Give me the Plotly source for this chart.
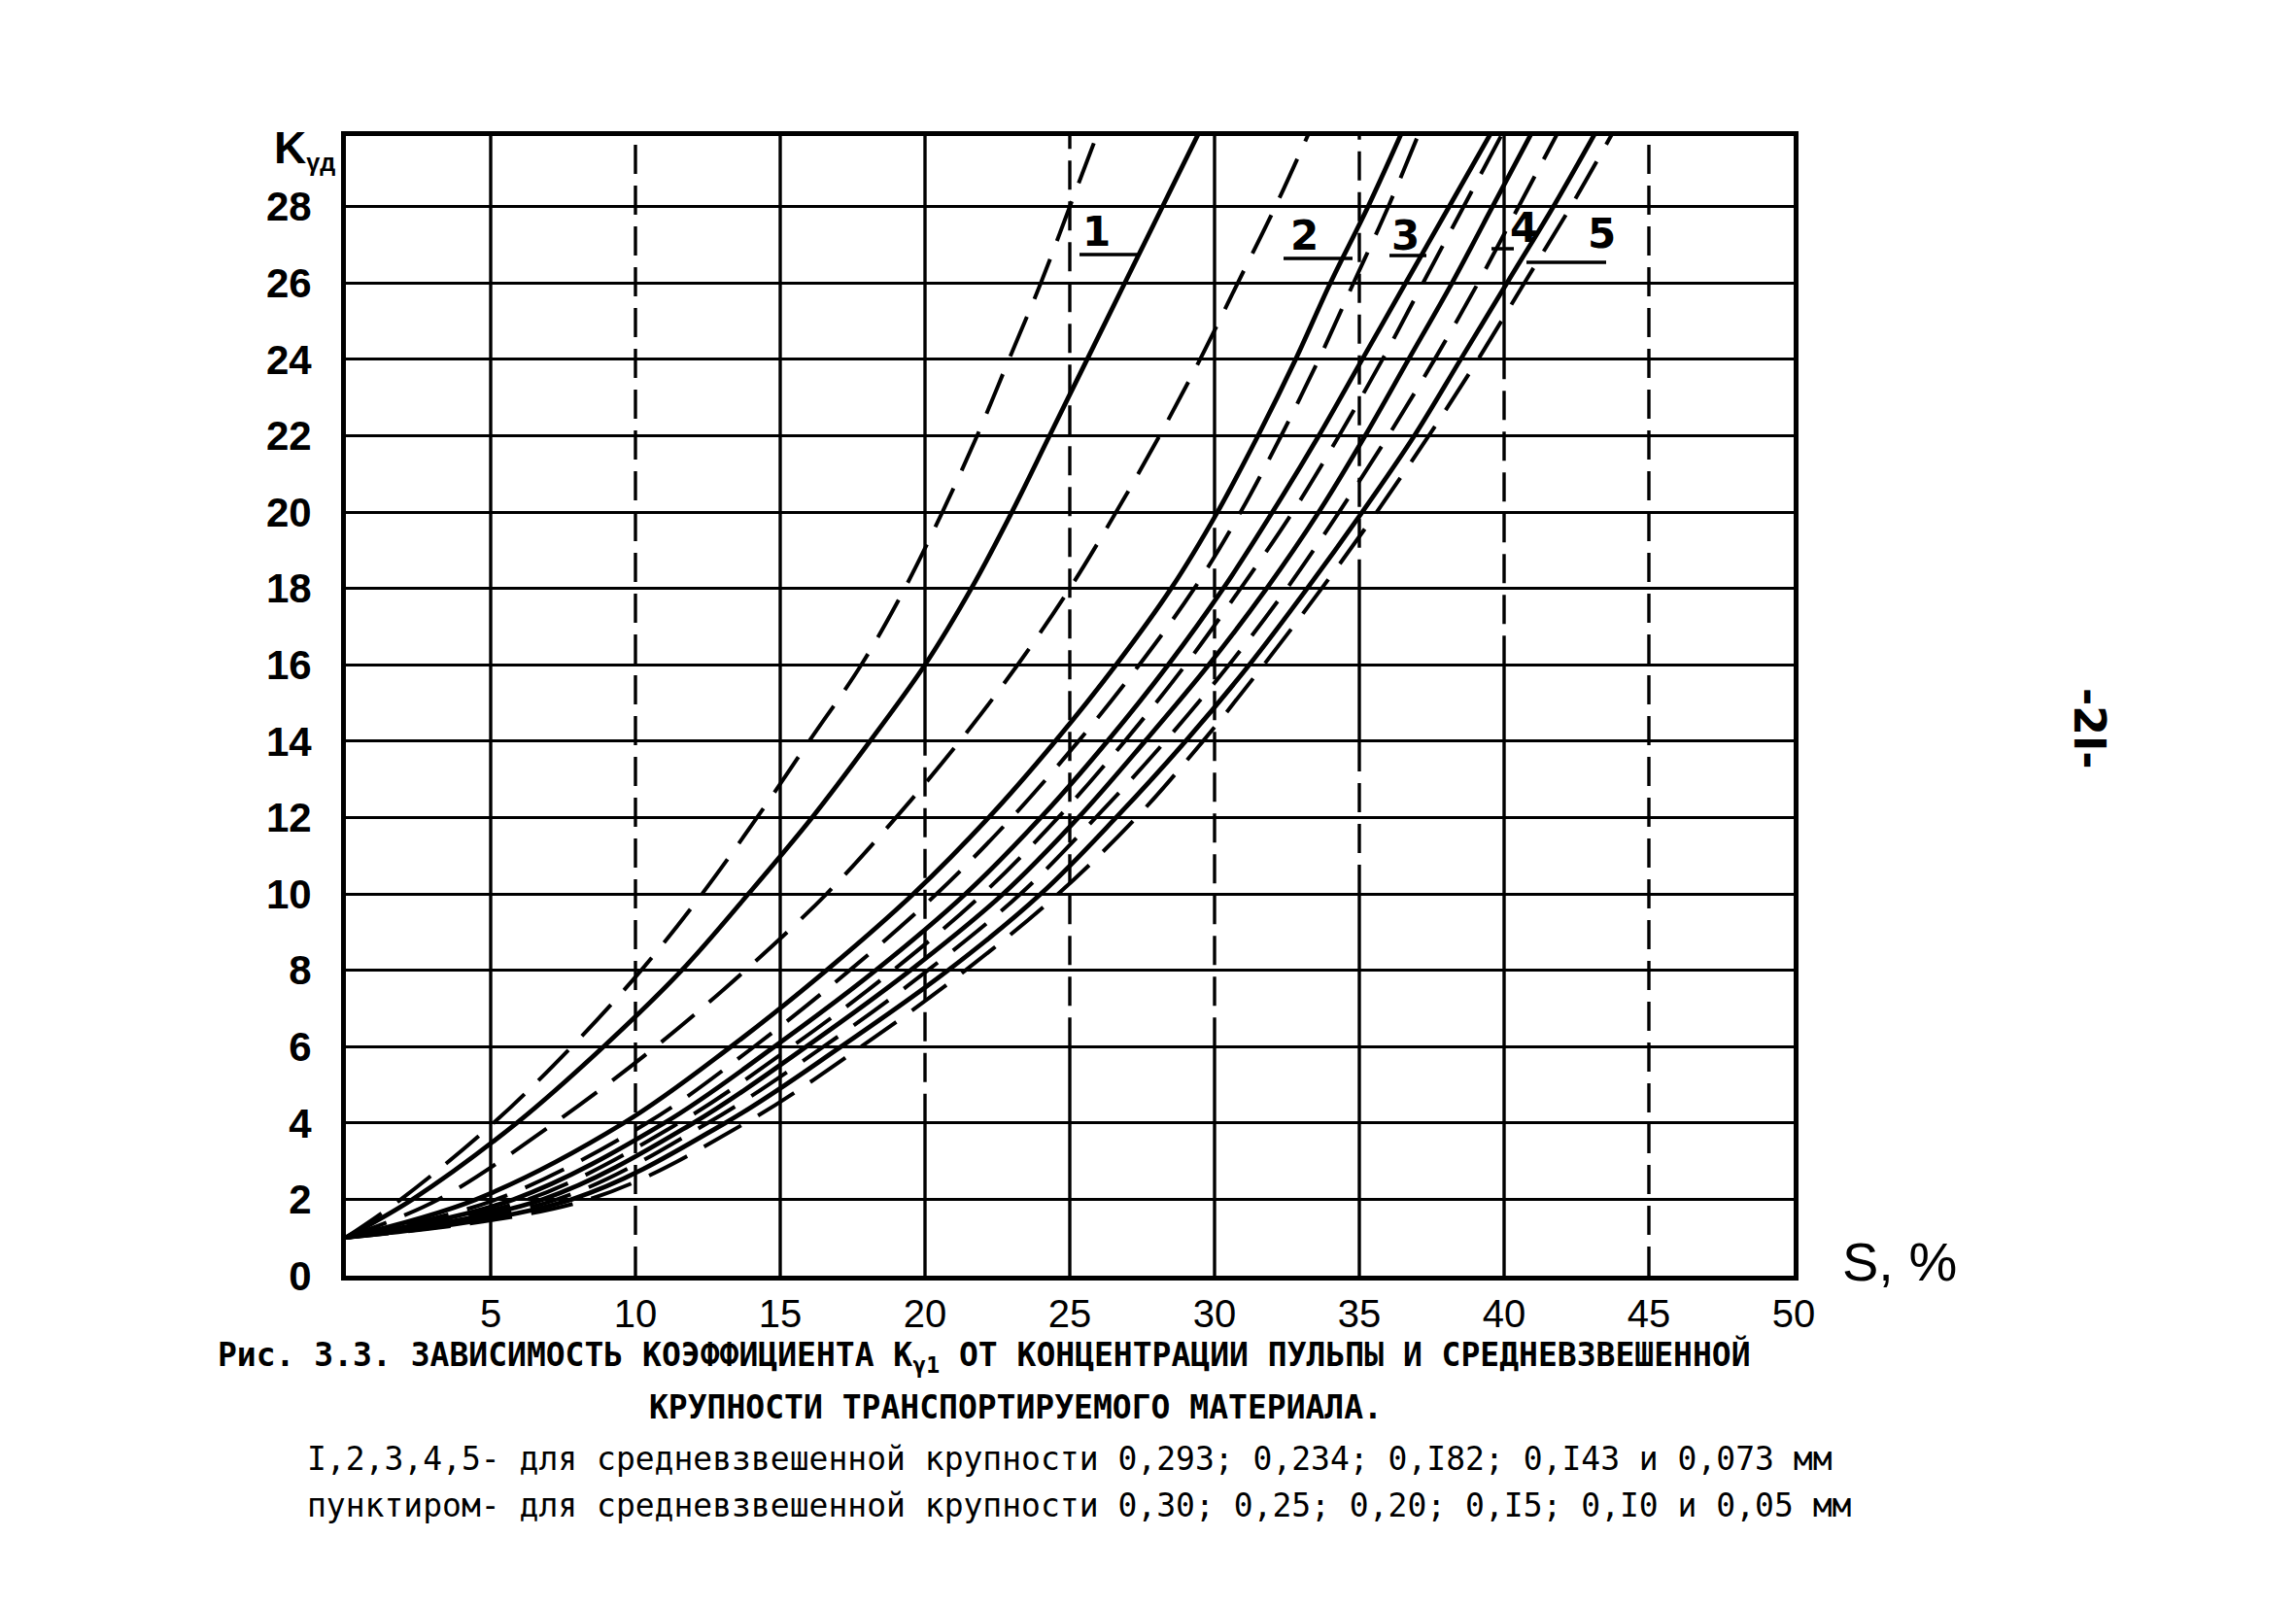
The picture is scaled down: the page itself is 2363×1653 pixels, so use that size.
import plotly.graph_objects as go

# ---------------- data ----------------
# K levels at which S (%) was read for every curve (30 = just past the top edge)
K_LEVELS = [1.0, 2, 4, 6, 8, 10, 12, 14, 16, 18, 20, 22, 24, 26, 28, 30]

# solid curves 1..5 (0.293; 0.234; 0.182; 0.143; 0.073 mm)
S_SOLID_1 = [0, 2.3, 5.9, 8.9, 11.6, 13.9, 16.1, 18.1, 20.0, 21.6, 23.0, 24.3, 25.6, 26.9, 28.2, 29.5]
S_SOLID_2 = [0, 4.5, 9.6, 13.3, 16.6, 19.6, 22.2, 24.5, 26.6, 28.5, 30.1, 31.5, 32.8, 34.0, 35.3, 36.5]
S_SOLID_3 = [0, 5.8, 11.0, 14.8, 18.3, 21.4, 24.0, 26.3, 28.4, 30.3, 32.0, 33.6, 35.1, 36.6, 38.1, 39.6]
S_SOLID_4 = [0, 6.8, 12.0, 15.9, 19.5, 22.7, 25.3, 27.6, 29.8, 31.8, 33.6, 35.2, 36.7, 38.2, 39.6, 41.0]
S_SOLID_5 = [0, 7.8, 13.1, 17.1, 20.8, 24.0, 26.6, 29.0, 31.2, 33.2, 35.1, 36.9, 38.5, 40.1, 41.7, 43.2]

# dashed curves (0.30; 0.25; 0.20; 0.15; 0.10; 0.05 mm)
S_DASH_030 = [0, 1.9, 5.1, 7.8, 10.2, 12.3, 14.2, 16.0, 17.8, 19.3, 20.6, 21.8, 22.9, 24.0, 25.0, 26.0]
S_DASH_025 = [0, 3.2, 7.2, 10.7, 13.8, 16.6, 19.0, 21.2, 23.2, 25.0, 26.6, 28.1, 29.5, 30.8, 32.1, 33.3]
S_DASH_020 = [0, 5.2, 10.4, 14.1, 17.4, 20.4, 23.0, 25.3, 27.4, 29.3, 30.9, 32.3, 33.6, 34.8, 36.0, 37.1]
S_DASH_015 = [0, 6.3, 11.5, 15.4, 18.9, 22.0, 24.6, 26.9, 29.0, 30.9, 32.7, 34.3, 35.8, 37.2, 38.6, 40.0]
S_DASH_010 = [0, 7.3, 12.5, 16.5, 20.1, 23.3, 25.9, 28.3, 30.5, 32.5, 34.3, 36.0, 37.6, 39.1, 40.5, 41.9]
S_DASH_005 = [0, 8.4, 13.8, 17.8, 21.4, 24.6, 27.3, 29.6, 31.7, 33.7, 35.6, 37.4, 39.1, 40.7, 42.3, 43.8]

X_TICKS = [5, 10, 15, 20, 25, 30, 35, 40, 45, 50]
Y_TICKS = [0, 2, 4, 6, 8, 10, 12, 14, 16, 18, 20, 22, 24, 26, 28]
CURVE_LABELS = ["1", "2", "3", "4", "5"]

CAPTION_1 = "Рис. 3.3. ЗАВИСИМОСТЬ КОЭФФИЦИЕНТА K<sub>γ1</sub> ОТ КОНЦЕНТРАЦИИ ПУЛЬПЫ И СРЕДНЕВЗВЕШЕННОЙ"
CAPTION_2 = "КРУПНОСТИ ТРАНСПОРТИРУЕМОГО МАТЕРИАЛА."
CAPTION_3 = "I,2,3,4,5- для средневзвешенной крупности 0,293; 0,234; 0,I82; 0,I43 и 0,073 мм"
CAPTION_4 = "пунктиром- для средневзвешенной крупности 0,30; 0,25; 0,20; 0,I5; 0,I0 и 0,05 мм"

# ---------------- layout geometry ----------------
W, H = 2363, 1653
L, R, T, B = 348, 2363 - 1838, 132, 1653 - 1305
PW, PH = W - L - R, H - T - B
X_MAX, Y_MAX = 50, 29.85


def px(xp):
    return (xp - L) / PW


def py(yp):
    return (H - B - yp) / PH


SANS = "Liberation Sans, Arial, sans-serif"
MONO = "DejaVu Sans Mono, Liberation Mono, monospace"

fig = go.Figure()

solid = [S_SOLID_1, S_SOLID_2, S_SOLID_3, S_SOLID_4, S_SOLID_5]
dashed = [S_DASH_030, S_DASH_025, S_DASH_020, S_DASH_015, S_DASH_010, S_DASH_005]

for s in dashed:
    fig.add_trace(go.Scatter(x=s, y=K_LEVELS, mode="lines", showlegend=False,
                             line=dict(color="black", width=4, dash="44px,20px",
                                       shape="spline", smoothing=1.0)))
for s in solid:
    fig.add_trace(go.Scatter(x=s, y=K_LEVELS, mode="lines", showlegend=False,
                             line=dict(color="black", width=4.8,
                                       shape="spline", smoothing=1.0)))

# vertical grid lines (scan shows some dashed portions)
VGRID_DASHED = {10: [(0, Y_MAX)], 20: [(4, 14)], 25: [(6, Y_MAX)], 30: [(6, 20)],
                35: [(10, 14), (18, Y_MAX)], 40: [(16, 24)], 45: [(0, Y_MAX)]}
shapes = []
for xv in X_TICKS[:-1]:
    dsegs = sorted(VGRID_DASHED.get(xv, []))
    cur = 0
    segs = []
    for a, b in dsegs:
        if a > cur:
            segs.append((cur, a, "solid"))
        segs.append((a, b, "30px,12px"))
        cur = b
    if cur < Y_MAX:
        segs.append((cur, Y_MAX, "solid"))
    for a, b, d in segs:
        shapes.append(dict(type="line", xref="x", yref="y", x0=xv, x1=xv, y0=a, y1=b,
                           layer="below", line=dict(color="black", width=3.4, dash=d)))

# curve label underlines (pixel positions)
UNDERLINES = [(1103, 1164, 254), (1313, 1384, 258), (1422, 1460, 255),
              (1527, 1550, 248), (1563, 1645, 262)]
for x0, x1, yv in UNDERLINES:
    shapes.append(dict(type="line", xref="paper", yref="paper", x0=px(x0), x1=px(x1),
                       y0=py(yv), y1=py(yv), line=dict(color="black", width=3.5)))

annotations = []
LABEL_POS = [(1120, 230), (1334, 234), (1438, 234), (1560, 226), (1640, 232)]
for lab, (xp, yp) in zip(CURVE_LABELS, LABEL_POS):
    annotations.append(dict(text=lab, xref="paper", yref="paper", x=px(xp), y=py(yp),
                            showarrow=False, xanchor="center", yanchor="middle",
                            font=dict(family="DejaVu Sans", size=42, color="black",
                                      weight="bold")))

# axis titles
annotations.append(dict(text="K<span style='font-size:36px'><sub>γд</sub></span>",
                        xref="paper", yref="paper",
                        x=px(272), y=py(145), showarrow=False, xanchor="left", yanchor="middle",
                        font=dict(family=SANS, size=46, color="black", weight="bold")))
annotations.append(dict(text="S, %", xref="paper", yref="paper",
                        x=px(1886), y=py(1290), showarrow=False, xanchor="left", yanchor="middle",
                        font=dict(family=SANS, size=56, color="black")))

# caption
cap_font = dict(family=MONO, size=33, color="black", weight="bold")
annotations.append(dict(text=CAPTION_1, xref="paper", yref="paper", x=px(214), y=py(1388),
                        showarrow=False, xanchor="left", yanchor="middle", font=cap_font))
annotations.append(dict(text=CAPTION_2, xref="paper", yref="paper", x=px(1037), y=py(1440),
                        showarrow=False, xanchor="center", yanchor="middle", font=cap_font))
annotations.append(dict(text=CAPTION_3, xref="paper", yref="paper", x=px(306), y=py(1493),
                        showarrow=False, xanchor="left", yanchor="middle",
                        font=dict(family=MONO, size=33, color="black")))
annotations.append(dict(text=CAPTION_4, xref="paper", yref="paper", x=px(306), y=py(1541),
                        showarrow=False, xanchor="left", yanchor="middle",
                        font=dict(family=MONO, size=33, color="black")))

# page number
annotations.append(dict(text="-2I-", xref="paper", yref="paper", x=px(2142), y=py(742),
                        showarrow=False, textangle=90, xanchor="center", yanchor="middle",
                        font=dict(family="DejaVu Sans", size=44, color="black", weight="bold")))

fig.update_layout(
    width=W, height=H, autosize=False,
    margin=dict(l=L, r=R, t=T, b=B, pad=0),
    paper_bgcolor="white", plot_bgcolor="white",
    shapes=shapes, annotations=annotations,
    xaxis=dict(range=[0, X_MAX], tickvals=X_TICKS, ticktext=[str(v) for v in X_TICKS],
               showgrid=False, zeroline=False, showline=True, mirror=True,
               linecolor="black", linewidth=5, ticks="", ticklen=0, ticklabelstandoff=0,
               tickfont=dict(family=SANS, size=40, color="black")),
    yaxis=dict(range=[0, Y_MAX], tickvals=Y_TICKS, ticktext=[str(v) for v in Y_TICKS],
               showgrid=True, gridcolor="black", gridwidth=3.4, zeroline=False,
               showline=True, mirror=True, linecolor="black", linewidth=5,
               ticks="", ticklabelstandoff=22,
               tickfont=dict(family=SANS, size=42, color="black", weight="bold")),
)

fig.write_html("out.html")
